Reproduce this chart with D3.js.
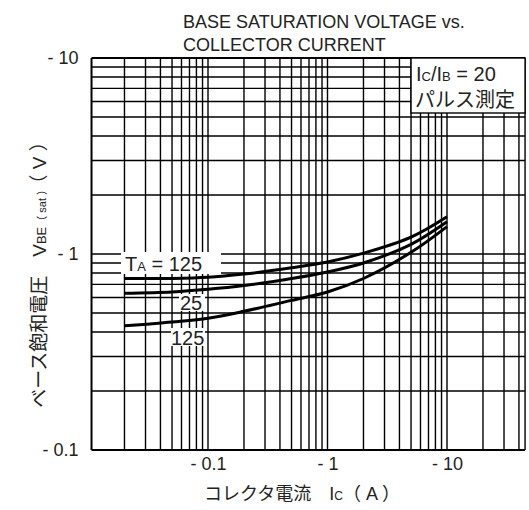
<!DOCTYPE html>
<html><head><meta charset="utf-8">
<script src="https://cdn.jsdelivr.net/npm/d3@7"></script>
<style>
html,body{margin:0;padding:0;background:#fff;}
svg{display:block;font-family:"Liberation Sans","Noto Sans CJK JP",Arial,sans-serif;}
</style></head>
<body><svg id="c" width="529" height="510"></svg>
<script>
// ---- data ----
const currentA = [0.02, 0.05, 0.1, 0.2, 0.5, 1, 2, 5, 10];
const vbeUpper  = [0.75, 0.75, 0.76, 0.79, 0.85, 0.91, 1.01, 1.22, 1.55];
const vbeMiddle = [0.63, 0.64, 0.66, 0.69, 0.75, 0.81, 0.90, 1.12, 1.46];
const vbeLower  = [0.43, 0.45, 0.47, 0.51, 0.58, 0.64, 0.75, 1.02, 1.38];
const seriesLabels = ["125", "25", "125"];
const xTicks = [0.1, 1, 10];
const xTickLabels = ["- 0.1", "- 1", "- 10"];
const yTicks = [0.1, 1, 10];
const yTickLabels = ["- 0.1", "- 1", "- 10"];
const xExtent = [0.0106, 45];
const yExtent = [0.1, 10];

const svg = d3.select("#c");
const x = d3.scaleLog().domain([0.1, 10]).range([208, 447]);
const y = d3.scaleLog().domain([0.1, 10]).range([450, 58]);
const X0 = x(xExtent[0]), X1 = x(xExtent[1]);
const Y0 = y(yExtent[0]), Y1 = y(yExtent[1]);

// grid values
const xGrid = [];
for (let e = -2; e <= 1; e++) for (let m = 1; m <= 9; m++) { const v = m * Math.pow(10, e); if (v > xExtent[0] && v < xExtent[1]) xGrid.push(v); }
const yGrid = [];
for (let e = -1; e <= 0; e++) for (let m = 1; m <= 9; m++) { const v = m * Math.pow(10, e); if (v > yExtent[0] && v < yExtent[1]) yGrid.push(v); }

const g = svg.append("g");
g.selectAll("line.vx").data(xGrid).join("line")
  .attr("x1", d => x(d)).attr("x2", d => x(d)).attr("y1", Y1).attr("y2", Y0)
  .attr("stroke", "#000").attr("stroke-width", 1.4);
g.selectAll("line.hy").data(yGrid).join("line")
  .attr("x1", X0).attr("x2", X1).attr("y1", d => y(d)).attr("y2", d => y(d))
  .attr("stroke", "#000").attr("stroke-width", 1.4);
// frame
g.append("line").attr("x1", X0).attr("x2", X0).attr("y1", Y1).attr("y2", Y0).attr("stroke", "#000").attr("stroke-width", 2);
g.append("line").attr("x1", X0).attr("x2", X1).attr("y1", Y0).attr("y2", Y0).attr("stroke", "#000").attr("stroke-width", 2);
g.append("line").attr("x1", X0).attr("x2", X1).attr("y1", Y1).attr("y2", Y1).attr("stroke", "#000").attr("stroke-width", 2);
g.append("line").attr("x1", X1).attr("x2", X1).attr("y1", Y1).attr("y2", Y0).attr("stroke", "#000").attr("stroke-width", 1.4);

// condition box
g.append("rect").attr("x", x(5)).attr("y", Y1).attr("width", X1 - x(5)).attr("height", y(5) - Y1 - 4)
  .attr("fill", "#fff").attr("stroke", "#000").attr("stroke-width", 1.4);
const cond = g.append("text").attr("x", x(5) + 5).attr("y", Y1 + 23).attr("font-size", 20).attr("fill", "#222");
cond.append("tspan").text("I");
cond.append("tspan").attr("font-size", 13).text("C");
cond.append("tspan").text("/I");
cond.append("tspan").attr("font-size", 13).text("B");
cond.append("tspan").text(" = 20");
g.append("text").attr("x", x(5) + 4).attr("y", Y1 + 49).attr("font-size", 20).attr("fill", "#222").text("パルス測定");

// curve label backgrounds
g.append("rect").attr("x", 121).attr("y", 252).attr("width", 100).attr("height", 22).attr("fill", "#fff");
g.append("rect").attr("x", 179).attr("y", 294).attr("width", 26).attr("height", 17).attr("fill", "#fff");
g.append("rect").attr("x", 171).attr("y", 328).attr("width", 34).attr("height", 18).attr("fill", "#fff");

// curves
const line = d3.line().x(d => x(d[0])).y(d => y(d[1])).curve(d3.curveCatmullRom.alpha(0.5));
[vbeUpper, vbeMiddle, vbeLower].forEach(s => {
  g.append("path").attr("d", line(currentA.map((c, i) => [c, s[i]])))
    .attr("fill", "none").attr("stroke", "#000").attr("stroke-width", 3);
});

// curve labels
const t1 = g.append("text").attr("x", 125).attr("y", 271).attr("font-size", 20).attr("fill", "#222");
t1.append("tspan").text("T");
t1.append("tspan").attr("font-size", 13).text("A");
t1.append("tspan").text(" = " + seriesLabels[0]);
g.append("text").attr("x", 180).attr("y", 310).attr("font-size", 20).attr("fill", "#222").text(seriesLabels[1]);
g.append("text").attr("x", 171).attr("y", 345).attr("font-size", 20).attr("fill", "#222").text(seriesLabels[2]);

// axes
const xa = svg.append("g").attr("transform", `translate(0,${Y0})`)
  .call(d3.axisBottom(x).tickValues(xTicks).tickSize(0).tickPadding(7).tickFormat((d, i) => xTickLabels[i]));
xa.select(".domain").remove();
xa.selectAll("text").attr("font-size", 18).attr("fill", "#222").attr("font-family", null);
const ya = svg.append("g").attr("transform", `translate(${X0},0)`)
  .call(d3.axisLeft(y).tickValues(yTicks).tickSize(0).tickPadding(13).tickFormat((d, i) => yTickLabels[i]));
ya.select(".domain").remove();
ya.selectAll("text").attr("font-size", 18).attr("fill", "#222").attr("font-family", null);

// title
svg.append("text").attr("x", 183).attr("y", 28).attr("font-size", 18).attr("fill", "#222").text("BASE SATURATION VOLTAGE vs.");
svg.append("text").attr("x", 183).attr("y", 51).attr("font-size", 18).attr("fill", "#222").text("COLLECTOR CURRENT");

// x title
const xt = svg.append("text").attr("x", 302).attr("y", 500).attr("text-anchor", "middle").attr("font-size", 18).attr("fill", "#222");
xt.append("tspan").text("コレクタ電流　I");
xt.append("tspan").attr("font-size", 12).text("C");
xt.append("tspan").text("（ A ）");

// y title
const yt = svg.append("text").attr("transform", "translate(46,270) rotate(-90)").attr("text-anchor", "middle").attr("font-size", 19).attr("fill", "#222");
yt.append("tspan").text("ベース飽和電圧　V");
yt.append("tspan").attr("font-size", 13).text("BE");
yt.append("tspan").attr("font-size", 11).text("（ sat ）");
yt.append("tspan").text("（ V ）");
</script></body></html>
